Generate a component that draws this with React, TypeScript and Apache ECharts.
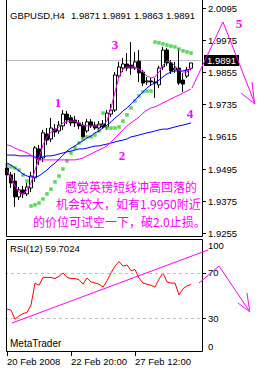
import React, { useEffect, useRef } from 'react';
import * as echarts from 'echarts';

const categories = [
  '2008.02.20 04:00', '2008.02.20 08:00', '2008.02.20 12:00', '2008.02.20 16:00', '2008.02.20 20:00',
  '2008.02.21 00:00', '2008.02.21 04:00', '2008.02.21 08:00', '2008.02.21 12:00', '2008.02.21 16:00', '2008.02.21 20:00',
  '2008.02.22 00:00', '2008.02.22 04:00', '2008.02.22 08:00', '2008.02.22 12:00', '2008.02.22 16:00', '2008.02.22 20:00',
  '2008.02.25 00:00', '2008.02.25 04:00', '2008.02.25 08:00', '2008.02.25 12:00', '2008.02.25 16:00', '2008.02.25 20:00',
  '2008.02.26 00:00', '2008.02.26 04:00', '2008.02.26 08:00', '2008.02.26 12:00', '2008.02.26 16:00', '2008.02.26 20:00',
  '2008.02.27 00:00', '2008.02.27 04:00', '2008.02.27 08:00', '2008.02.27 12:00', '2008.02.27 16:00', '2008.02.27 20:00',
  '2008.02.28 00:00', '2008.02.28 04:00', '2008.02.28 08:00', '2008.02.28 12:00', '2008.02.28 16:00', '2008.02.28 20:00',
  '2008.02.29 00:00', '2008.02.29 04:00', '2008.02.29 08:00', '2008.02.29 12:00', '2008.02.29 16:00', '2008.02.29 20:00',
  '', '',
];

const xTickLabels: Record<number, string> = { 0: '20 Feb 2008', 16: '22 Feb 20:00', 32: '27 Feb 12:00' };

// [open, close, low, high]
const candles = [
  [1.9499, 1.9473, 1.9454, 1.9510],
  [1.9473, 1.9443, 1.9424, 1.9484],
  [1.9450, 1.9391, 1.9353, 1.9480],
  [1.9391, 1.9417, 1.9379, 1.9428],
  [1.9417, 1.9402, 1.9387, 1.9432],
  [1.9402, 1.9428, 1.9394, 1.9443],
  [1.9424, 1.9469, 1.9409, 1.9484],
  [1.9462, 1.9574, 1.9447, 1.9581],
  [1.9570, 1.9529, 1.9510, 1.9585],
  [1.9536, 1.9630, 1.9521, 1.9641],
  [1.9626, 1.9603, 1.9585, 1.9648],
  [1.9607, 1.9648, 1.9596, 1.9686],
  [1.9644, 1.9633, 1.9615, 1.9663],
  [1.9637, 1.9659, 1.9626, 1.9674],
  [1.9656, 1.9700, 1.9641, 1.9715],
  [1.9700, 1.9678, 1.9663, 1.9712],
  [1.9686, 1.9667, 1.9656, 1.9697],
  [1.9678, 1.9667, 1.9652, 1.9693],
  [1.9667, 1.9656, 1.9644, 1.9678],
  [1.9659, 1.9615, 1.9607, 1.9671],
  [1.9637, 1.9671, 1.9630, 1.9682],
  [1.9671, 1.9656, 1.9648, 1.9682],
  [1.9659, 1.9648, 1.9641, 1.9671],
  [1.9648, 1.9663, 1.9633, 1.9674],
  [1.9663, 1.9652, 1.9644, 1.9678],
  [1.9652, 1.9704, 1.9641, 1.9715],
  [1.9700, 1.9715, 1.9689, 1.9738],
  [1.9715, 1.9846, 1.9708, 1.9857],
  [1.9842, 1.9876, 1.9835, 1.9895],
  [1.9872, 1.9887, 1.9857, 1.9910],
  [1.9887, 1.9872, 1.9861, 1.9928],
  [1.9883, 1.9872, 1.9846, 1.9969],
  [1.9872, 1.9895, 1.9865, 1.9932],
  [1.9898, 1.9854, 1.9820, 1.9939],
  [1.9857, 1.9816, 1.9805, 1.9865],
  [1.9820, 1.9824, 1.9809, 1.9839],
  [1.9824, 1.9820, 1.9805, 1.9835],
  [1.9820, 1.9816, 1.9760, 1.9835],
  [1.9809, 1.9872, 1.9797, 1.9880],
  [1.9876, 1.9939, 1.9865, 1.9951],
  [1.9939, 1.9891, 1.9880, 1.9947],
  [1.9891, 1.9861, 1.9850, 1.9902],
  [1.9865, 1.9872, 1.9854, 1.9895],
  [1.9872, 1.9816, 1.9809, 1.9947],
  [1.9827, 1.9812, 1.9783, 1.9853],
  [1.9842, 1.9865, 1.9835, 1.9876],
  [1.9871, 1.9891, 1.9863, 1.9891],
];

const sar = [
  1.9510, 1.9503, 1.9499, 1.9491, 1.9473, 1.9450,
  1.9357, 1.9361, 1.9368, 1.9383, 1.9402, 1.9420, 1.9447, 1.9469, 1.9495, 1.9525, 1.9555, 1.9574,
  1.9592, 1.9607, 1.9615, 1.9615, 1.9622, 1.9637,
  1.9704, 1.9648, 1.9648, 1.9648, 1.9652, 1.9674, 1.9697, 1.9723, 1.9749, 1.9768, 1.9783, 1.9786, 1.9786,
  1.9969, 1.9966, 1.9962, 1.9958, 1.9954, 1.9951, 1.9943, 1.9936, 1.9932, 1.9928,
];

const maFast = [
  1.9491, 1.9461, 1.9432, 1.9409, 1.9402, 1.9417, 1.9443, 1.9491, 1.9536, 1.9585,
  1.9615, 1.9633, 1.9641, 1.9652, 1.9667, 1.9671, 1.9674, 1.9674, 1.9667, 1.9656,
  1.9656, 1.9656, 1.9656, 1.9656, 1.9659, 1.9674, 1.9723, 1.9783, 1.9839, 1.9868,
  1.9876, 1.9876, 1.9876, 1.9868, 1.9857, 1.9842, 1.9835, 1.9839, 1.9857, 1.9883,
  1.9898, 1.9895, 1.9880, 1.9865, 1.9857, 1.9857, 1.9872,
];

const maMid = [
  1.9517, 1.9510, 1.9499, 1.9488, 1.9476, 1.9469, 1.9465, 1.9465, 1.9469, 1.9480,
  1.9491, 1.9506, 1.9517, 1.9532, 1.9547, 1.9562, 1.9573, 1.9581, 1.9592, 1.9600,
  1.9611, 1.9618, 1.9630, 1.9637, 1.9648, 1.9659, 1.9671, 1.9686, 1.9697, 1.9712,
  1.9723, 1.9738, 1.9753, 1.9768, 1.9783, 1.9798, 1.9809, 1.9816, 1.9827, 1.9839,
  1.9850, 1.9857, 1.9861, 1.9861, 1.9861, 1.9865, 1.9868,
];

const maSlowPink = [
  1.9585, 1.9581, 1.9573, 1.9566, 1.9562, 1.9555, 1.9547, 1.9536, 1.9529, 1.9529,
  1.9529, 1.9529, 1.9529, 1.9529, 1.9529, 1.9529, 1.9529, 1.9529, 1.9532, 1.9536,
  1.9544, 1.9551, 1.9559, 1.9566, 1.9573, 1.9581, 1.9596, 1.9611, 1.9626, 1.9641,
  1.9656, 1.9667, 1.9678, 1.9689, 1.9704, 1.9715, 1.9723, 1.9727, 1.9734, 1.9742,
  1.9749, 1.9757, 1.9764, 1.9771, 1.9779, 1.9786, 1.9794,
];

const maSlowBlue = [
  1.9547, 1.9547, 1.9547, 1.9544, 1.9544, 1.9544, 1.9544, 1.9540, 1.9540, 1.9540,
  1.9544, 1.9544, 1.9547, 1.9551, 1.9555, 1.9559, 1.9562, 1.9566, 1.9570, 1.9570,
  1.9573, 1.9577, 1.9581, 1.9581, 1.9585, 1.9588, 1.9592, 1.9596, 1.9600, 1.9603,
  1.9607, 1.9615, 1.9618, 1.9622, 1.9626, 1.9630, 1.9633, 1.9637, 1.9641, 1.9644,
  1.9644, 1.9648, 1.9652, 1.9656, 1.9659, 1.9663, 1.9667,
];

const rsi = [
  38, 37, 29, 32, 34, 35, 41.5, 61, 59, 66,
  66, 66, 65, 67, 70, 66, 65, 65, 64, 60,
  65.5, 62, 61, 60, 57.5, 63, 70, 76, 80, 76,
  77, 72, 73, 65.5, 61, 60, 59, 57.5, 64.5, 70,
  62, 61, 61, 50.5, 56, 58.5, 59.7024,
];

const priceTicks = [1.9255, 1.9375, 1.9495, 1.9615, 1.9735, 1.9855, 1.9975, 2.0095];
const rsiLevels = [30, 70];
const rsiLabelPos = [5.3, 30, 70, 94.2];
const rsiLabelText = ['0', '30', '70', '100'];
const lastPrice = 1.9891;
const titleParts = ['GBPUSD,H4', '1.9871', '1.9891', '1.9863', '1.9891'];
const titleX = [10, 71, 102, 134, 166];
const noteLines = ['感觉英镑短线冲高回落的', '机会较大，如有1.9950附近', '的价位可试空一下，破2.0止损。'];
const waveMarks = [
  { t: '1', x: 58, y: 102 },
  { t: '2', x: 122, y: 155 },
  { t: '3', x: 115, y: 44 },
  { t: '4', x: 190, y: 113 },
  { t: '5', x: 239, y: 23 },
];

const MT_FONT = '"Liberation Sans", Arial, sans-serif';
const PINK = '#ff00ff';

export default function App() {
  const ref = useRef<HTMLDivElement>(null);
  useEffect(() => {
    const chart = echarts.init(ref.current!, null, { renderer: 'svg' });
    const txt = (text: string, x: number, y: number, font: string, fill = '#000', align = 'left') => ({
      type: 'text',
      z: 100,
      style: { text, x, y, font, fill, textAlign: align, align, textVerticalAlign: 'middle', verticalAlign: 'middle' },
    });
    const pl = (points: number[][]) => ({
      type: 'polyline',
      z: 100,
      shape: { points },
      style: { stroke: PINK, lineWidth: 1, fill: 'none' },
    });
    const showTick = (i: number) => xTickLabels[i] !== undefined;
    chart.setOption({
      animation: false,
      backgroundColor: '#fff',
      grid: [
        { left: 5, right: 63, top: 0, height: 236 },
        { left: 5, right: 63, top: 239, height: 113 },
      ],
      xAxis: [
        {
          type: 'category', gridIndex: 0, data: categories,
          axisLine: { show: false }, axisTick: { show: false }, axisLabel: { show: false }, splitLine: { show: false },
        },
        {
          type: 'category', gridIndex: 1, data: categories,
          axisLine: { show: false },
          axisTick: { show: true, alignWithLabel: true, interval: (i: number) => showTick(i), length: 4, lineStyle: { color: '#000' } },
          axisLabel: {
            interval: (i: number) => showTick(i),
            formatter: (_v: string, i: number) => xTickLabels[i] ?? '',
            align: 'left', margin: 4, fontSize: 9.5, color: '#000', fontFamily: MT_FONT,
          },
          splitLine: { show: false },
        },
      ],
      yAxis: [
        {
          type: 'value', gridIndex: 0, position: 'right', offset: 2, min: 1.92449, max: 2.0126, scale: true,
          axisLine: { show: false },
          axisTick: { show: true, customValues: priceTicks, length: 3, lineStyle: { color: '#000' } },
          axisLabel: { customValues: priceTicks, formatter: (v: number) => v.toFixed(4), margin: 5, fontSize: 9.5, color: '#000', fontFamily: MT_FONT },
          splitLine: { show: false },
        },
        {
          type: 'value', gridIndex: 1, position: 'right', offset: 2, min: 0, max: 100,
          axisLine: { show: false },
          axisTick: { show: true, customValues: rsiLevels, length: 3, lineStyle: { color: '#000' } },
          axisLabel: {
            customValues: rsiLabelPos,
            formatter: (v: number) => rsiLabelText[rsiLabelPos.indexOf(v)] ?? '',
            margin: 5, fontSize: 9.5, color: '#000', fontFamily: MT_FONT,
          },
          splitLine: { show: false },
        },
      ],
      series: [
        {
          type: 'candlestick', xAxisIndex: 0, yAxisIndex: 0, data: candles, barWidth: 3,
          itemStyle: { color: '#fff', color0: '#000', borderColor: '#000', borderColor0: '#000', borderWidth: 1 },
          markLine: {
            silent: true, symbol: ['none', 'none'], z: 1,
            data: [{ yAxis: lastPrice }],
            lineStyle: { color: '#c0c0c0', type: 'solid', width: 1 },
            label: {
              show: true, position: 'end', formatter: lastPrice.toFixed(4), distance: 3,
              backgroundColor: '#000', color: '#fff', padding: [1, 3, 0, 3], fontSize: 9.5, fontFamily: MT_FONT,
            },
          },
        },
        { type: 'line', xAxisIndex: 0, yAxisIndex: 0, data: maSlowBlue, symbol: 'none', lineStyle: { color: '#0000ff', width: 1 } },
        { type: 'line', xAxisIndex: 0, yAxisIndex: 0, data: maSlowPink, symbol: 'none', lineStyle: { color: PINK, width: 1 } },
        { type: 'line', xAxisIndex: 0, yAxisIndex: 0, data: maMid, symbol: 'none', lineStyle: { color: '#0000ff', width: 1 } },
        { type: 'line', xAxisIndex: 0, yAxisIndex: 0, data: maFast, symbol: 'none', lineStyle: { color: PINK, width: 1 } },
        { type: 'scatter', xAxisIndex: 0, yAxisIndex: 0, data: sar, symbol: 'rect', symbolSize: 3.5, itemStyle: { color: '#33cc33' } },
        {
          type: 'line', xAxisIndex: 1, yAxisIndex: 1, data: rsi, symbol: 'none', lineStyle: { color: '#ff0000', width: 1 },
          markLine: {
            silent: true, symbol: ['none', 'none'],
            data: rsiLevels.map((v) => ({ yAxis: v })),
            lineStyle: { color: '#c0c0c0', type: [3, 3], width: 1 },
            label: { show: false },
          },
        },
      ],
      graphic: [
        { type: 'rect', z: 90, shape: { x: 6.5, y: -1, width: 196, height: 237.5 }, style: { fill: 'none', stroke: '#000', lineWidth: 1 } },
        { type: 'rect', z: 90, shape: { x: 6.5, y: 239.5, width: 196, height: 112 }, style: { fill: 'none', stroke: '#000', lineWidth: 1 } },
        ...titleParts.map((t, k) => txt(t, titleX[k], 15, `9.5px ${MT_FONT}`)),
        txt('RSI(12) 59.7024', 10, 248, `9.5px ${MT_FONT}`),
        txt('MetaTrader', 10, 343, `10px ${MT_FONT}`),
        txt(noteLines[0], 65, 186.5, '12px "Noto Sans CJK SC"', PINK),
        txt(noteLines[1], 56, 203.5, '12px "Noto Sans CJK SC"', PINK),
        txt(noteLines[2], 33, 221, '12px "Noto Sans CJK SC"', PINK),
        ...waveMarks.map((m) => txt(m.t, m.x, m.y, 'bold 13px "Liberation Serif", serif', PINK, 'center')),
        pl([[192, 88], [223, 22], [255, 104]]),
        pl([[241, 93], [255, 104]]),
        pl([[252, 82], [254.5, 103.5]]),
        pl([[12, 323], [208, 250]]),
        pl([[199, 283], [219, 266], [250, 312]]),
        pl([[238, 303], [250, 312]]),
        pl([[247, 293], [249.5, 310]]),
      ],
    });
    return () => chart.dispose();
  }, []);
  return <div ref={ref} style={{ position: 'absolute', left: 0, top: 0, width: 264, height: 372, background: '#fff' }} />;
}
